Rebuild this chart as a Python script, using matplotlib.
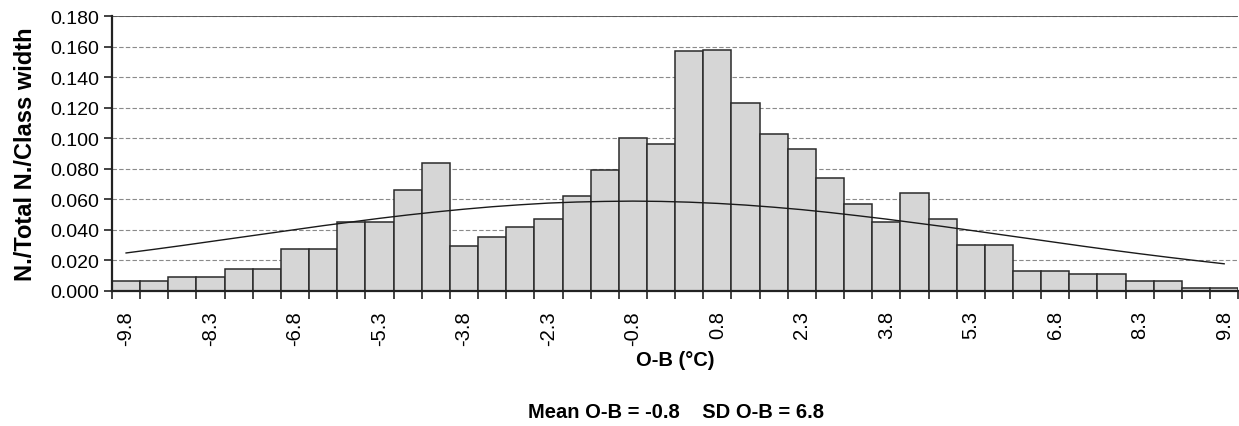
import matplotlib
matplotlib.use("Agg")
import matplotlib.pyplot as plt
import numpy as np

plt.rcParams['font.family'] = ['Liberation Sans', 'DejaVu Sans']

# class mid-points (°C), class width 0.5
CLASS_MIDS = [-9.75, -9.25, -8.75, -8.25, -7.75, -7.25, -6.75, -6.25, -5.75, -5.25,
              -4.75, -4.25, -3.75, -3.25, -2.75, -2.25, -1.75, -1.25, -0.75, -0.25,
              0.25, 0.75, 1.25, 1.75, 2.25, 2.75, 3.25, 3.75, 4.25, 4.75,
              5.25, 5.75, 6.25, 6.75, 7.25, 7.75, 8.25, 8.75, 9.25, 9.75]

# N./Total N./Class width
DENSITY = [0.006, 0.006, 0.009, 0.009, 0.014, 0.014, 0.027, 0.027, 0.045, 0.045,
           0.066, 0.084, 0.029, 0.035, 0.042, 0.047, 0.062, 0.079, 0.100, 0.096,
           0.157, 0.158, 0.123, 0.103, 0.093, 0.074, 0.057, 0.045, 0.064, 0.047,
           0.030, 0.030, 0.013, 0.013, 0.011, 0.011, 0.006, 0.006, 0.002, 0.002]

# fitted normal curve read at each class mid-point
CURVE = [0.0247, 0.0271, 0.0296, 0.0322, 0.0348, 0.0374, 0.0400, 0.0426, 0.0450, 0.0474,
         0.0496, 0.0516, 0.0534, 0.0550, 0.0563, 0.0574, 0.0581, 0.0585, 0.0587, 0.0585,
         0.0580, 0.0572, 0.0561, 0.0547, 0.0531, 0.0512, 0.0491, 0.0469, 0.0445, 0.0421,
         0.0395, 0.0369, 0.0343, 0.0317, 0.0291, 0.0266, 0.0242, 0.0219, 0.0197, 0.0176]

Y_TICKS = [0.000, 0.020, 0.040, 0.060, 0.080, 0.100, 0.120, 0.140, 0.160, 0.180]
LABEL_EVERY = 3


def fmt_class(v):
    # round half away from zero, like the spreadsheet labels
    r = np.sign(v) * np.floor(abs(v) * 10 + 0.5) / 10
    return f"{r:.1f}"


fig = plt.figure(figsize=(12.39, 4.27), dpi=100)
ax = fig.add_axes([0.0904, 0.317, 0.909, 0.643])

x = np.arange(len(CLASS_MIDS))
ax.bar(x, DENSITY, width=1.0, color="#d6d6d6", edgecolor="#2a2a2a",
       linewidth=1.1, zorder=2)
ax.plot(x, CURVE, color="#1a1a1a", linewidth=1.0, zorder=3)

ax.set_xlim(-0.5, len(CLASS_MIDS) - 0.5)
ax.set_ylim(0, 0.18)

# labels at every third class centre, tick marks at class boundaries
lab_idx = x[::LABEL_EVERY]
ax.set_xticks(lab_idx)
ax.set_xticklabels([fmt_class(CLASS_MIDS[i]) for i in lab_idx], rotation=90, fontsize=14.5)
ax.tick_params(axis='x', which='major', length=0, pad=14)
ax.set_xticks(np.arange(-0.5, len(CLASS_MIDS)), minor=True)
ax.tick_params(axis='x', which='minor', length=6, width=1.2, color="#222222", direction='out')

ax.set_yticks(Y_TICKS)
ax.set_yticklabels([f"{v:.3f}" for v in Y_TICKS], fontsize=14)
ax.tick_params(axis='y', length=6, width=1.2, color="#222222", pad=3)

ax.grid(True, axis='y', color="#8a8a8a", linestyle=(0, (4, 2)), linewidth=0.8, zorder=0)
ax.set_axisbelow(True)

for s in ['top', 'right']:
    ax.spines[s].set_visible(False)
ax.spines['left'].set_linewidth(1.6)
ax.spines['left'].set_color("#222222")
ax.spines['bottom'].set_linewidth(1.6)
ax.spines['bottom'].set_color("#222222")
ax.axhline(0.18, color="#555555", linewidth=1.3, zorder=1)

ax.set_ylabel("N./Total N./Class width", fontsize=17, fontweight='bold', labelpad=10)
ax.set_xlabel("O-B (°C)", fontsize=14.5, fontweight='bold')
ax.xaxis.set_label_coords(0.5, -0.249)
ax.xaxis.label.set_va('center')

fig.text(0.5456, 0.033, "Mean O-B = -0.8    SD O-B = 6.8", ha='center', va='center',
         fontsize=14.5, fontweight='bold')

fig.savefig("out.png", dpi=100)
